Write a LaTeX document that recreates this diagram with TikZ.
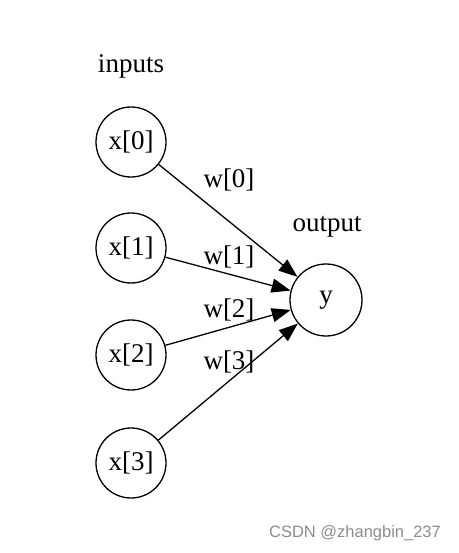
\documentclass[tikz,border=0pt]{standalone}
\usepackage{fontspec}
\setmainfont{Liberation Serif}
\newfontfamily\markfont{Liberation Sans}
\usetikzlibrary{arrows.meta,positioning}

\begin{document}
\begin{tikzpicture}[x=1pt,y=-1pt,font=\fontsize{27}{32}\selectfont,
	neuron/.style={draw,circle,line width=1.3pt,minimum size=70pt,inner sep=0pt},
	weight/.style={line width=1.3pt,-{Triangle[length=19pt,width=14pt]}}]
	\useasboundingbox (0,0) rectangle (458,553);
	\node [](inputs_label) at (131,66) {inputs};
	\node [neuron](x0_node) at (131,142) {x[0]};
	\node [neuron](x1_node) at (131,248) {x[1]};
	\node [neuron](x2_node) at (131,355) {x[2]};
	\node [neuron](x3_node) at (131,463) {x[3]};
	\node [](output_label) at (327,227) {output};
	\node [neuron, minimum size=72pt](y_node) at (326,300) {y};
	\node [](w0_label) at (229,180) {w[0]};
	\node [](w1_label) at (229,257) {w[1]};
	\node [](w2_label) at (229,310) {w[2]};
	\node [](w3_label) at (229,362) {w[3]};
	\draw [weight] (x0_node) -- (y_node);
	\draw [weight] (x1_node) -- (y_node);
	\draw [weight] (x2_node) -- (y_node);
	\draw [weight] (x3_node) -- (y_node);
	\node [text=black!45, font=\markfont\fontsize{16.5}{20}\selectfont](csdn_mark) at (355,533) {CSDN @zhangbin\_237};
\end{tikzpicture}
\end{document}
